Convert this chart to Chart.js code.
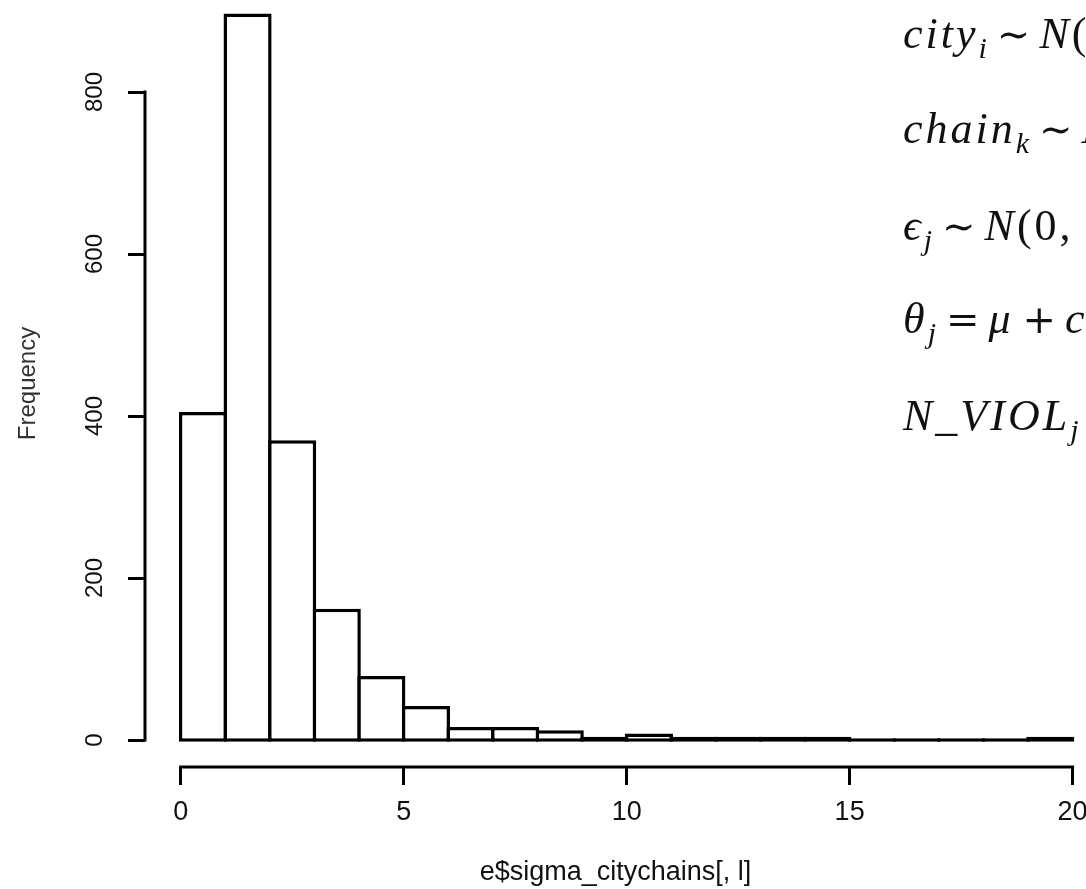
<!DOCTYPE html>
<html>
<head>
<meta charset="utf-8">
<script src="https://cdn.jsdelivr.net/npm/chart.js@4"></script>
<style>
  html, body { margin: 0; padding: 0; background: #fff; overflow: hidden; }
  #wrap { position: relative; width: 1086px; height: 889px; overflow: hidden; }
  #hist { position: absolute; left: 0; top: 0; }
  .eq {
    position: absolute; left: 903px; white-space: nowrap;
    font-family: "Liberation Serif", "DejaVu Serif", serif;
    font-size: 44px; line-height: 1; color: #111; letter-spacing: 3px;
  }
  .eq i { font-style: italic; }
  .eq sub { font-size: 30px; vertical-align: -10px; line-height: 0; font-style: italic; letter-spacing: 1px; }
  .eq .op { font-family: "DejaVu Serif", serif; font-size: 40px; padding: 0 9px; letter-spacing: 0; }
</style>
</head>
<body>
<div id="wrap">
  <canvas id="hist" width="1086" height="889"></canvas>
  <div class="eq" style="top:12px"><i>city</i><sub>i</sub><span class="op">∼</span><i>N</i>(0, <i>σ</i><sub>city</sub>)</div>
  <div class="eq" style="top:107px"><i>chain</i><sub>k</sub><span class="op">∼</span><i>N</i>(0, <i>σ</i><sub>chain</sub>)</div>
  <div class="eq" style="top:204px"><i>ϵ</i><sub>j</sub><span class="op">∼</span><i>N</i>(0, <i>σ</i><sub>ϵ</sub>)</div>
  <div class="eq" style="top:297px"><i>θ</i><sub>j</sub><span class="op">=</span><i>μ</i><span class="op">+</span><i>city</i><sub>i[j]</sub></div>
  <div class="eq" style="top:394px"><i>N</i>_<i>VIOL</i><sub>j</sub>&nbsp;&nbsp;&nbsp;<span class="op">∼</span><i>Poisson</i></div>
</div>
<script>
document.addEventListener("DOMContentLoaded", () => {

  /* =========================
     DATA
  ========================= */
  const binCenters = [0.5, 1.5, 2.5, 3.5, 4.5, 5.5, 6.5, 7.5, 8.5, 9.5,
                      10.5, 11.5, 12.5, 13.5, 14.5, 15.5, 16.5, 17.5, 18.5, 19.5];
  const frequencies = [405, 897, 370, 162, 79, 42, 16, 16, 12, 4,
                       8, 4, 4, 4, 4, 0, 0, 0, 0, 4];
  const xTicks = [0, 5, 10, 15, 20];
  const yTicks = [0, 200, 400, 600, 800];
  const xTitle = "e$sigma_citychains[, l]";
  const yTitle = "Frequency";

  const family = "'Liberation Sans', Arial, sans-serif";
  const xFont = { family, size: 27 };
  const yFont = { family, size: 24 };

  /* =========================
     R STYLE AXES
  ========================= */
  const rAxes = {
    id: "rAxes",
    afterDraw(chart) {
      const { ctx, chartArea, scales: { x, y } } = chart;
      ctx.save();
      ctx.strokeStyle = "#000";
      ctx.lineWidth = 3;
      ctx.lineCap = "square";

      // x axis line, first to last tick
      ctx.beginPath();
      ctx.moveTo(x.getPixelForValue(xTicks[0]), chartArea.bottom);
      ctx.lineTo(x.getPixelForValue(xTicks[xTicks.length - 1]), chartArea.bottom);
      ctx.stroke();

      // y axis line
      ctx.beginPath();
      ctx.moveTo(chartArea.left, y.getPixelForValue(yTicks[0]));
      ctx.lineTo(chartArea.left, y.getPixelForValue(yTicks[yTicks.length - 1]));
      ctx.stroke();

      // y tick labels, parallel to the axis
      ctx.fillStyle = "#111";
      ctx.font = yFont.size + "px " + family;
      ctx.textAlign = "center";
      ctx.textBaseline = "middle";
      y.ticks.forEach(t => {
        ctx.save();
        ctx.translate(chartArea.left - 50, y.getPixelForValue(t.value));
        ctx.rotate(-Math.PI / 2);
        ctx.fillText(String(t.value), 0, 0);
        ctx.restore();
      });
      ctx.restore();
    }
  };

  new Chart(document.getElementById("hist"), {
    type: "bar",
    data: {
      datasets: [{
        data: binCenters.map((c, i) => ({ x: c, y: frequencies[i] })),
        backgroundColor: "#fff",
        borderColor: "#000",
        borderWidth: 3.5,
        borderSkipped: false,
        base: -2,
        minBarLength: 3.5,
        barPercentage: 1.0785,
        categoryPercentage: 1
      }]
    },
    options: {
      responsive: false,
      animation: false,
      events: [],
      layout: { padding: 0 },
      plugins: { legend: { display: false }, tooltip: { enabled: false } },
      scales: {
        x: {
          type: "linear",
          offset: false,
          min: -0.8,
          max: 20.3,
          afterBuildTicks: s => { s.ticks = xTicks.map(v => ({ value: v })); },
          afterFit: s => { s.height = 122; s.paddingLeft = 0; s.paddingRight = 0; },
          border: { display: false },
          grid: { offset: false, drawOnChartArea: false, drawTicks: true, tickLength: 18, lineWidth: 3, color: "#000" },
          ticks: { color: "#111", font: xFont, padding: 11, maxRotation: 0 },
          title: { display: true, text: xTitle, color: "#111", font: xFont, padding: { top: 0, bottom: 0 } }
        },
        y: {
          min: -33.3,
          max: 913.6,
          afterBuildTicks: s => { s.ticks = yTicks.map(v => ({ value: v })); },
          afterFit: s => { s.width = 145; s.paddingTop = 0; s.paddingBottom = 0; },
          border: { display: false },
          grid: { drawOnChartArea: false, drawTicks: true, tickLength: 17, lineWidth: 3, color: "#000" },
          ticks: { display: false },
          title: { display: true, text: yTitle, color: "#333", font: yFont, padding: { top: 14, bottom: 0 } }
        }
      }
    },
    plugins: [rAxes]
  });

});
</script>
</body>
</html>
